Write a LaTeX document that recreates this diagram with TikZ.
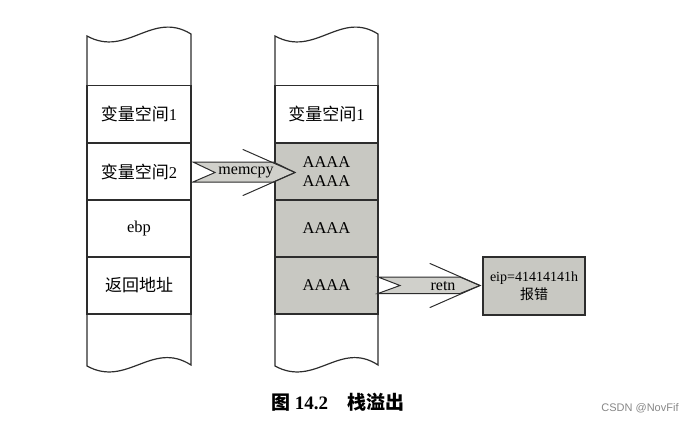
\documentclass[tikz,border=0pt]{standalone}
\usepackage{fontspec}
\setmainfont{Liberation Serif}
\newfontfamily\cjk{Noto Sans CJK SC}
\newfontfamily\wmfont{Liberation Sans}
\definecolor{cellgray}{RGB}{200,200,194}
\definecolor{linec}{RGB}{45,45,45}
\definecolor{wmgray}{RGB}{135,135,135}
\begin{document}
\begin{tikzpicture}[x=1pt,y=-1pt,
  every node/.style={inner sep=0pt, outer sep=0pt},
  txt/.style={font=\fontsize{16.5}{19}\selectfont, align=center},
  cell/.style={txt, draw=linec, line width=1.2pt, minimum width=104pt, minimum height=57pt},
  rcell/.style={cell, minimum width=103pt},
  filled/.style={fill=cellgray},
  col/.style={draw=linec, line width=1.2pt},
  fatbody/.style={fill=cellgray!85, draw=linec, line width=1pt, line join=miter},
  barb/.style={draw=linec, line width=1pt, line cap=round},
  lbl/.style={font=\fontsize{16}{18}\selectfont}]
\useasboundingbox (0,0) rectangle (693,423);

% left column
\node[cell] (l1) at (139,114) {{\cjk\fontsize{17}{19}\selectfont 变量空间}1};
\node[cell] (l2) at (139,171.5) {{\cjk\fontsize{17}{19}\selectfont 变量空间}2};
\node[cell] (l3) at (139,228.5) {ebp};
\node[cell] (l4) at (139,285.5) {\cjk\fontsize{17}{19}\selectfont 返回地址};
\draw[col] (l1.north west) -- (87,36) .. controls (127,58) and (152,10) .. (191,34) -- (l1.north east);
\draw[col] (l4.south west) -- (87,366) .. controls (127,388) and (152,340) .. (191,365) -- (l4.south east);

% right column
\node[rcell] (r1) at (326.5,114) {{\cjk\fontsize{17}{19}\selectfont 变量空间}1};
\node[rcell, filled] (r2) at (326.5,171.5) {AAAA\\[0pt]AAAA};
\node[rcell, filled] (r3) at (326.5,228.5) {AAAA};
\node[rcell, filled] (r4) at (326.5,285.5) {AAAA};
\draw[col] (r1.north west) -- (275,36) .. controls (315,58) and (340,10) .. (378,34) -- (r1.north east);
\draw[col] (r4.south west) -- (275,366) .. controls (315,388) and (340,340) .. (378,365) -- (r4.south east);

% result box
\node[cell, filled, minimum width=102pt, minimum height=58pt, font=\fontsize{14}{17}\selectfont] (res) at (534,286)
  {eip=41414141h\\[1pt]{\cjk 报错}};

% memcpy arrow
\begin{scope}[shift={(l2.east)}]
  \draw[fatbody] (2,-9.5) -- (82.5,-9.5) -- (104,1) -- (82.5,10.5) -- (2,10.5) -- (24,1) -- cycle;
  \draw[barb] (52,-22) -- (104,1) -- (52,24);
  \node[lbl] (mlbl) at (55,1) {memcpy};
\end{scope}

% retn arrow
\begin{scope}[shift={(r4.east)}]
  \draw[fatbody] (0,-8.5) -- (82,-8.5) -- (102,0) -- (82,8) -- (0,8) -- (22,0) -- cycle;
  \draw[barb] (52,-22) -- (102,0) -- (52,22);
  \node[lbl] (rlbl) at (65,1) {retn};
\end{scope}

% caption
\node[font=\fontsize{19}{21}\selectfont\bfseries] (cap) at (337.5,402) {{\cjk 图} 14.2\quad {\cjk 栈溢出}};

% watermark
\node[font=\wmfont\fontsize{11}{13}\selectfont, text=wmgray] (wm) at (640,408) {CSDN @NovFif};
\end{tikzpicture}
\end{document}
